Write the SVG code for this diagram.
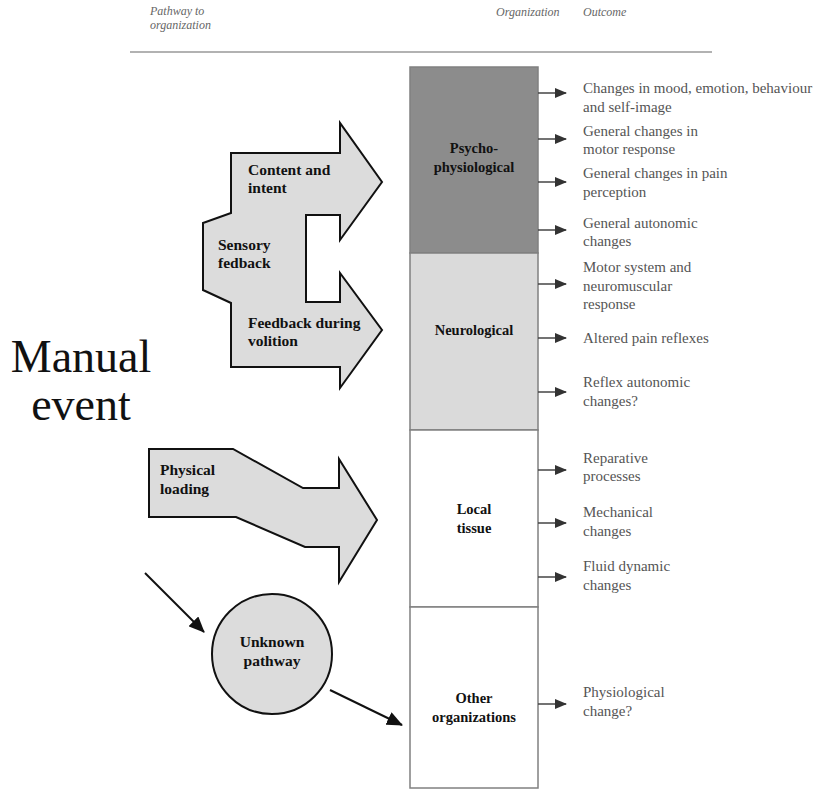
<svg xmlns="http://www.w3.org/2000/svg" width="827" height="790" viewBox="0 0 827 790">
<style>
.hdr{font-family:"Liberation Serif",serif;font-style:italic;font-size:12px;fill:#666}
.lbl{font-family:"Liberation Serif",serif;font-weight:bold;font-size:15.5px;fill:#111}
.col{font-family:"Liberation Serif",serif;font-weight:bold;font-size:14.5px;fill:#111;text-anchor:middle}
.out{font-family:"Liberation Serif",serif;font-size:15px;fill:#555}
.big{font-family:"Liberation Serif",serif;font-size:46px;fill:#111;text-anchor:middle}
.shape{fill:#dcdcdc;stroke:#111;stroke-width:2;stroke-linejoin:miter}
.box{stroke:#808080;stroke-width:1.5}
.oa{stroke:#444;stroke-width:1.5;fill:none}
.ca{stroke:#111;stroke-width:2;fill:none}
</style>
<defs>
<marker id="ah" markerWidth="12" markerHeight="10" refX="11" refY="5" orient="auto" markerUnits="userSpaceOnUse">
<path d="M0,0 L12,5 L0,10 Z" fill="#333"/>
</marker>
<marker id="ch" markerWidth="16" markerHeight="14" refX="15" refY="7" orient="auto" markerUnits="userSpaceOnUse">
<path d="M0,0 L16,7 L0,14 Z" fill="#111"/>
</marker>
</defs>
<rect width="827" height="790" fill="#fff"/>

<g id="header">
<text class="hdr" x="150" y="15">Pathway to</text>
<text class="hdr" x="150" y="29">organization</text>
<text class="hdr" x="496" y="16">Organization</text>
<text class="hdr" x="583" y="16">Outcome</text>
<line x1="130" y1="52" x2="712" y2="52" stroke="#999" stroke-width="1.5"/>
</g>

<g id="manual-event">
<text class="big" x="81" y="372">Manual</text>
<text class="big" x="81" y="420">event</text>
</g>

<g id="sensory-feedback">
<path class="shape" d="M231,153 L340,153 L340,123 L382,182 L340,240 L340,215 L306,215 L306,302 L340,302 L340,273 L382,330 L340,388 L340,367 L231,367 L231,303 L203,290 L203,223 L231,213 Z"/>
<text class="lbl" x="248" y="175">Content and</text>
<text class="lbl" x="248" y="193">intent</text>
<text class="lbl" x="218" y="250">Sensory</text>
<text class="lbl" x="218" y="268">fedback</text>
<text class="lbl" x="248" y="328">Feedback during</text>
<text class="lbl" x="248" y="346">volition</text>
</g>

<g id="physical-loading">
<path class="shape" d="M149,449 L233,449 L303,488 L339,488 L339,459 L377,520 L339,582 L339,547 L305,547 L236,517 L149,517 Z"/>
<text class="lbl" x="160" y="475">Physical</text>
<text class="lbl" x="160" y="494">loading</text>
</g>

<g id="unknown-pathway">
<circle class="shape" cx="272" cy="654" r="60" stroke-width="1.8"/>
<text class="lbl" x="272" y="647" text-anchor="middle">Unknown</text>
<text class="lbl" x="272" y="666" text-anchor="middle">pathway</text>
</g>

<g id="psychophysiological">
<rect class="box" x="410" y="67" width="128" height="186" fill="#8c8c8c"/>
<text class="col" x="474" y="153">Psycho-</text>
<text class="col" x="474" y="172">physiological</text>
</g>
<g id="neurological">
<rect class="box" x="410" y="253" width="128" height="177" fill="#dadada"/>
<text class="col" x="474" y="335">Neurological</text>
</g>
<g id="local-tissue">
<rect class="box" x="410" y="430" width="128" height="177" fill="#fff"/>
<text class="col" x="474" y="514">Local</text>
<text class="col" x="474" y="533">tissue</text>
</g>
<g id="other-organizations">
<rect class="box" x="410" y="607" width="128" height="181" fill="#fff"/>
<text class="col" x="474" y="703">Other</text>
<text class="col" x="474" y="722">organizations</text>
</g>

<g id="outcomes">
<text class="out" x="583" y="93">Changes in mood, emotion, behaviour</text>
<text class="out" x="583" y="112">and self-image</text>
<text class="out" x="583" y="136">General changes in</text>
<text class="out" x="583" y="154">motor response</text>
<text class="out" x="583" y="178">General changes in pain</text>
<text class="out" x="583" y="197">perception</text>
<text class="out" x="583" y="228">General autonomic</text>
<text class="out" x="583" y="246">changes</text>
<text class="out" x="583" y="272">Motor system and</text>
<text class="out" x="583" y="291">neuromuscular</text>
<text class="out" x="583" y="309">response</text>
<text class="out" x="583" y="343">Altered pain reflexes</text>
<text class="out" x="583" y="387">Reflex autonomic</text>
<text class="out" x="583" y="406">changes?</text>
<text class="out" x="583" y="463">Reparative</text>
<text class="out" x="583" y="481">processes</text>
<text class="out" x="583" y="517">Mechanical</text>
<text class="out" x="583" y="536">changes</text>
<text class="out" x="583" y="571">Fluid dynamic</text>
<text class="out" x="583" y="590">changes</text>
<text class="out" x="583" y="697">Physiological</text>
<text class="out" x="583" y="716">change?</text>
</g>

<g id="connectors">
<line class="oa" x1="538" y1="93" x2="566" y2="93" marker-end="url(#ah)"/>
<line class="oa" x1="538" y1="139" x2="566" y2="139" marker-end="url(#ah)"/>
<line class="oa" x1="538" y1="182" x2="566" y2="182" marker-end="url(#ah)"/>
<line class="oa" x1="538" y1="230" x2="566" y2="230" marker-end="url(#ah)"/>
<line class="oa" x1="538" y1="284" x2="566" y2="284" marker-end="url(#ah)"/>
<line class="oa" x1="538" y1="338" x2="566" y2="338" marker-end="url(#ah)"/>
<line class="oa" x1="538" y1="392" x2="566" y2="392" marker-end="url(#ah)"/>
<line class="oa" x1="538" y1="470" x2="566" y2="470" marker-end="url(#ah)"/>
<line class="oa" x1="538" y1="523" x2="566" y2="523" marker-end="url(#ah)"/>
<line class="oa" x1="538" y1="577" x2="566" y2="577" marker-end="url(#ah)"/>
<line class="oa" x1="538" y1="704" x2="566" y2="704" marker-end="url(#ah)"/>
<line class="ca" x1="145" y1="573" x2="204" y2="632" marker-end="url(#ch)"/>
<line class="ca" x1="330" y1="690" x2="402" y2="725" marker-end="url(#ch)"/>
</g>
</svg>
